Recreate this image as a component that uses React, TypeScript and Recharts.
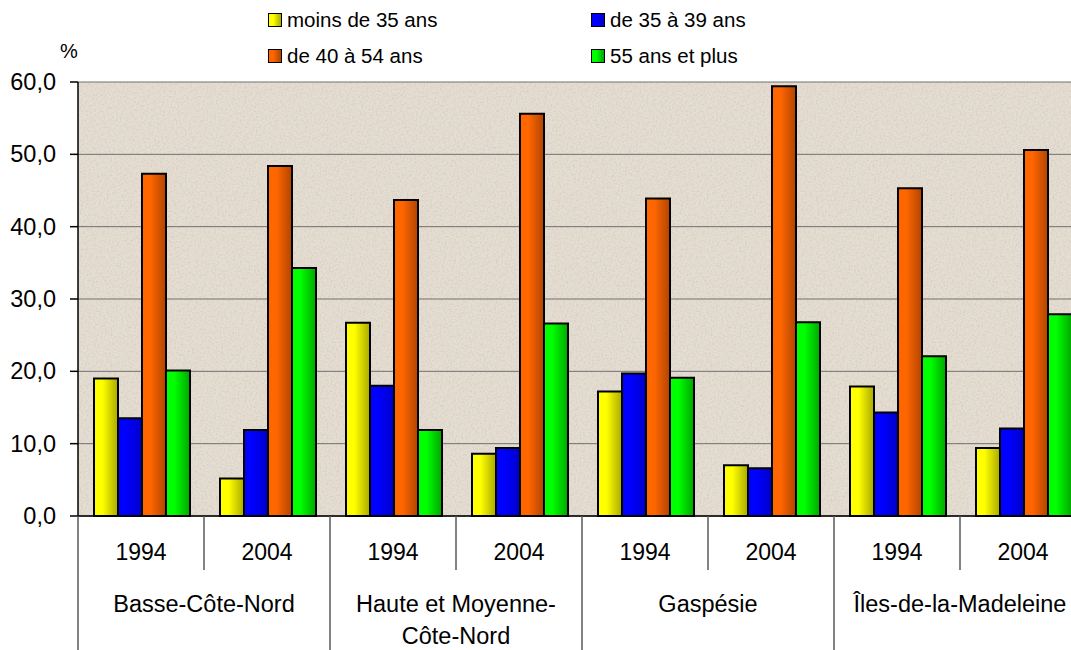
import React from 'react';
import { BarChart, Bar, XAxis, YAxis, CartesianGrid } from 'recharts';

const regions = ['Basse-Côte-Nord', 'Haute et Moyenne-Côte-Nord', 'Gaspésie', 'Îles-de-la-Madeleine'];
const regionLabelLines = [['Basse-Côte-Nord'], ['Haute et Moyenne-', 'Côte-Nord'], ['Gaspésie'], ['Îles-de-la-Madeleine']];
const years = ['1994', '2004'];
const moins35 = [19.0, 5.2, 26.7, 8.6, 17.2, 7.0, 17.9, 9.4];
const de35a39 = [13.5, 11.9, 18.0, 9.4, 19.7, 6.6, 14.3, 12.1];
const de40a54 = [47.3, 48.4, 43.7, 55.6, 43.9, 59.4, 45.3, 50.6];
const plus55 = [20.1, 34.3, 11.9, 26.6, 19.1, 26.8, 22.1, 27.9];
const yTicks = [0, 10, 20, 30, 40, 50, 60];

const seriesNames = ['moins de 35 ans', 'de 35 à 39 ans', 'de 40 à 54 ans', '55 ans et plus'];
const seriesColors = [
  ['#ffff00', '#a9a900'],
  ['#0000ff', '#0000c8'],
  ['#ff6600', '#b04400'],
  ['#00ff00', '#00a600'],
];

const data = regions.flatMap((r, ri) =>
  years.map((y, yi) => {
    const i = ri * 2 + yi;
    return {
      key: `${r}|${y}`,
      year: y,
      region: ri,
      s0: moins35[i],
      s1: de35a39[i],
      s2: de40a54[i],
      s3: plus55[i],
    };
  })
);

const FONT = "'Liberation Sans', Arial, sans-serif";

const XTick = (props: any) => {
  const { x, y, payload } = props;
  const idx = payload?.index ?? props.index ?? 0;
  const half = payload?.offset ?? 63;
  const row = data[idx];
  const els: any[] = [];
  els.push(
    <text key="yr" x={x} y={y + 44} textAnchor="middle" fontSize={23} fontFamily={FONT} fill="#000">
      {row ? row.year : payload.value}
    </text>
  );
  if (idx === 0) {
    els.push(<line key="l0" x1={x - half} x2={x - half} y1={y} y2={y + 134} stroke="#5a5a5a" strokeWidth={1.5} />);
  }
  if (idx % 2 === 0) {
    els.push(<line key="sep" x1={x + half} x2={x + half} y1={y} y2={y + 54} stroke="#5a5a5a" strokeWidth={1.5} />);
  } else {
    els.push(<line key="sep" x1={x + half} x2={x + half} y1={y} y2={y + 134} stroke="#5a5a5a" strokeWidth={1.5} />);
    const lines = regionLabelLines[row.region];
    lines.forEach((t, li) => {
      els.push(
        <text key={`r${li}`} x={x - half} y={y + 96 + li * 32} textAnchor="middle" fontSize={23.5} fontFamily={FONT} fill="#000">
          {t}
        </text>
      );
    });
  }
  return <g>{els}</g>;
};

const YTick = (props: any) => {
  const { x, y, payload } = props;
  return (
    <text x={x} y={y + 8} textAnchor="end" fontSize={23.5} fontFamily={FONT} fill="#000">
      {Number(payload.value).toFixed(1).replace('.', ',')}
    </text>
  );
};

export default function App() {
  return (
    <div style={{ position: 'fixed', left: 0, top: 0, width: 1071, height: 650, overflow: 'hidden', background: '#fff' }}>
      <BarChart
        width={1100}
        height={650}
        data={data}
        margin={{ top: 82, right: 14, bottom: 0, left: 0 }}
        barCategoryGap={16}
        barGap={0}
      >
        <defs>
          {seriesColors.map((c, i) => (
            <linearGradient key={i} id={`g${i}`} x1="0" y1="0" x2="1" y2="0">
              <stop offset="0%" stopColor={c[0]} />
              <stop offset="35%" stopColor={c[0]} />
              <stop offset="100%" stopColor={c[1]} />
            </linearGradient>
          ))}
          <filter id="noise" x="0" y="0" width="100%" height="100%">
            <feTurbulence type="fractalNoise" baseFrequency="0.55" numOctaves="3" seed="4" />
            <feColorMatrix type="matrix" values="0 0 0 0 0.45  0 0 0 0 0.42  0 0 0 0 0.38  0 0 0 -2.2 1.25" />
          </filter>
          <pattern id="tex" patternUnits="userSpaceOnUse" width="300" height="300">
            <rect width="300" height="300" fill="#e5ddd1" />
            <rect width="300" height="300" filter="url(#noise)" opacity="0.35" />
          </pattern>
        </defs>
        <CartesianGrid vertical={false} stroke="#707070" strokeWidth={1} fill="url(#tex)" fillOpacity={1} />
        <XAxis
          dataKey="key"
          height={134}
          tickLine={false}
          tickSize={0}
          tickMargin={0}
          interval={0}
          axisLine={{ stroke: '#000', strokeWidth: 1.5 }}
          tick={<XTick />}
        />
        <YAxis
          width={78}
          domain={[0, 60]}
          ticks={yTicks}
          interval={0}
          tickSize={8}
          tickMargin={14}
          axisLine={{ stroke: '#000', strokeWidth: 1.5 }}
          tickLine={{ stroke: '#000', strokeWidth: 1.5 }}
          tick={<YTick />}
        />
        {['s0', 's1', 's2', 's3'].map((k, i) => (
          <Bar key={k} dataKey={k} name={seriesNames[i]} fill={`url(#g${i})`} stroke="#000" strokeWidth={2} isAnimationActive={false} />
        ))}
      </BarChart>
      <div style={{ position: 'absolute', left: 60, top: 39, fontFamily: FONT, fontSize: 20, lineHeight: '24px', color: '#000' }}>%</div>
      {seriesNames.map((n, i) => {
        const col = i % 2;
        const row = Math.floor(i / 2);
        const left = col === 0 ? 268 : 591;
        const top = row === 0 ? 12 : 48;
        return (
          <div key={n} style={{ position: 'absolute', left, top: top - 4, display: 'flex', alignItems: 'center', fontFamily: FONT, fontSize: 20.5, lineHeight: '24px', color: '#000', whiteSpace: 'nowrap' }}>
            <span style={{ display: 'inline-block', width: 12, height: 12, border: '1.5px solid #000', background: `linear-gradient(to right, ${seriesColors[i][0]} 35%, ${seriesColors[i][1]})`, marginRight: 5 }} />
            {n}
          </div>
        );
      })}
    </div>
  );
}
